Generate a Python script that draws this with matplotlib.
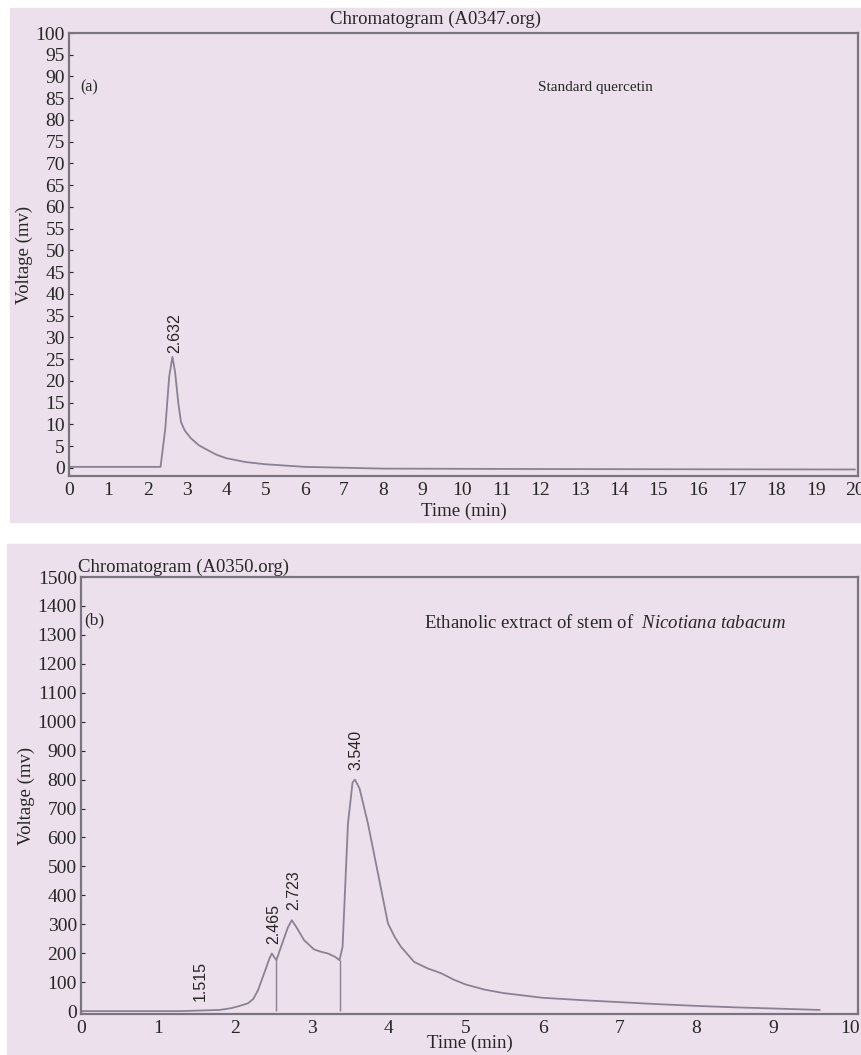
import numpy as np
import matplotlib.pyplot as plt
from matplotlib.patches import Rectangle

plt.rcParams['font.family'] = ['Liberation Serif', 'DejaVu Serif']
plt.rcParams['mathtext.fontset'] = 'custom'
plt.rcParams['mathtext.rm'] = 'Liberation Serif'
plt.rcParams['mathtext.it'] = 'Liberation Serif:italic'

# panel (a): standard quercetin
time_a = [0, 2.33, 2.45, 2.55, 2.632, 2.7, 2.78, 2.85, 2.95, 3.1, 3.3, 3.5, 3.75,
          4.0, 4.5, 5.0, 5.5, 6.0, 7.0, 8.0, 12, 20]
volt_a = [0.2, 0.2, 9, 21, 25.5, 22, 15, 10.5, 8.5, 6.8, 5.2, 4.2, 3.0,
          2.2, 1.3, 0.8, 0.5, 0.2, 0, -0.2, -0.3, -0.4]
peaks_a = [2.632]
peak_h_a = [25.5]

# panel (b): ethanolic extract of Nicotiana tabacum stem
time_b = [0, 1.3, 1.8, 1.95, 2.05, 2.17, 2.24, 2.30, 2.38, 2.45, 2.48,
          2.54, 2.60, 2.69, 2.74, 2.80, 2.90, 3.03, 3.12, 3.21, 3.30, 3.36,
          3.40, 3.47, 3.53, 3.56, 3.62, 3.73, 3.86, 3.99, 4.08, 4.16, 4.33,
          4.51, 4.68, 4.85, 5.0, 5.25, 5.5, 6.0, 6.5, 7.0, 7.5, 8.0, 8.5, 9.0, 9.6]
volt_b = [0, 0, 4, 10, 17, 27, 42, 72, 130, 182, 199,
          176, 222, 290, 314, 290, 245, 213, 205, 199, 188, 176,
          222, 648, 790, 800, 770, 648, 476, 303, 255, 222, 170,
          147, 131, 108, 92, 74, 62, 46, 38, 31, 24, 18, 13, 9, 4]
peaks_b = [1.515, 2.465, 2.723, 3.540]
peak_h_b = [0, 199, 314, 800]
drop_t = [2.54, 3.37]
drop_h = [176, 178]

pink = '#ece0ec'
ink = '#262626'
trace = '#8a8294'
frame = '#7a7480'

fig = plt.figure(figsize=(8.62, 10.55), dpi=100, facecolor='white')
W, H = 862, 1055
# scanned page background
fig.patches.append(Rectangle((10 / W, 1 - 522 / H), 1, 514 / H, transform=fig.transFigure,
                             color=pink, zorder=-10))
fig.patches.append(Rectangle((7 / W, 0), 1, 1 - 544 / H, transform=fig.transFigure,
                             color=pink, zorder=-10))


def style(ax):
    ax.set_facecolor('none')
    for s in ax.spines.values():
        s.set_color(frame)
        s.set_linewidth(1.6)
    ax.tick_params(axis='both', colors=ink, labelsize=14, length=3, width=0.8,
                   direction='in', pad=3)
    ax.tick_params(axis='x', length=0, pad=4)
    for lab in ax.get_xticklabels() + ax.get_yticklabels():
        lab.set_color(ink)


# ---- (a)
ax1 = fig.add_axes([69 / W, 1 - 476 / H, 789 / W, 443 / H])
ax1.plot(time_a, volt_a, color=trace, lw=1.3)
ax1.set_xlim(0, 20.08)
ax1.set_ylim(-1.9, 100)
ax1.set_xticks(range(0, 21))
ax1.set_yticks(range(0, 101, 5))
style(ax1)
ax1.set_xlabel('Time (min)', fontsize=13.5, color=ink, labelpad=3)
ax1.set_ylabel('Voltage (mv)', fontsize=13.5, color=ink, labelpad=2)
ax1.text(0.464, 1.012, 'Chromatogram (A0347.org)', transform=ax1.transAxes,
         ha='center', va='bottom', fontsize=13.5, color=ink)
ax1.text(0.014, 0.878, '(a)', transform=ax1.transAxes, ha='left', va='center',
         fontsize=11.5, color=ink)
ax1.text(0.594, 0.878, 'Standard quercetin', transform=ax1.transAxes, ha='left',
         va='center', fontsize=11, color=ink)
for t, h in zip(peaks_a, peak_h_a):
    ax1.annotate(f'{t:.3f}', (t, h), xytext=(1.5, 3), textcoords='offset points',
                 rotation=90, ha='center', va='bottom', fontsize=11.5,
                 family='Liberation Sans', color=ink)

# ---- (b)
ax2 = fig.add_axes([81 / W, 1 - 1014 / H, 777 / W, 437 / H])
ax2.plot(time_b, volt_b, color=trace, lw=1.3)
ax2.vlines(drop_t, 0, drop_h, color=trace, lw=1.0)
ax2.set_xlim(0, 10.1)
ax2.set_ylim(-10, 1500)
ax2.set_xticks(range(0, 11))
ax2.set_yticks(range(0, 1501, 100))
style(ax2)
ax2.set_xlabel('Time (min)', fontsize=13.5, color=ink, labelpad=-1)
ax2.set_ylabel('Voltage (mv)', fontsize=13.5, color=ink, labelpad=2)
ax2.text(-0.004, 1.003, 'Chromatogram (A0350.org)', transform=ax2.transAxes,
         ha='left', va='bottom', fontsize=13.5, color=ink)
ax2.text(0.004, 0.90, '(b)', transform=ax2.transAxes, ha='left', va='center',
         fontsize=12.5, color=ink)
ax2.text(0.442, 0.895, 'Ethanolic extract of stem of  $\\mathit{Nicotiana\\ tabacum}$',
         transform=ax2.transAxes, ha='left', va='center', fontsize=13.5, color=ink)
for t, h in zip(peaks_b, peak_h_b):
    ax2.annotate(f'{t:.3f}', (t, h + 20), xytext=(2, 3), textcoords='offset points',
                 rotation=90, ha='center', va='bottom', fontsize=11.5,
                 family='Liberation Sans', color=ink)

fig.savefig('out.png', dpi=100, facecolor=fig.get_facecolor())
